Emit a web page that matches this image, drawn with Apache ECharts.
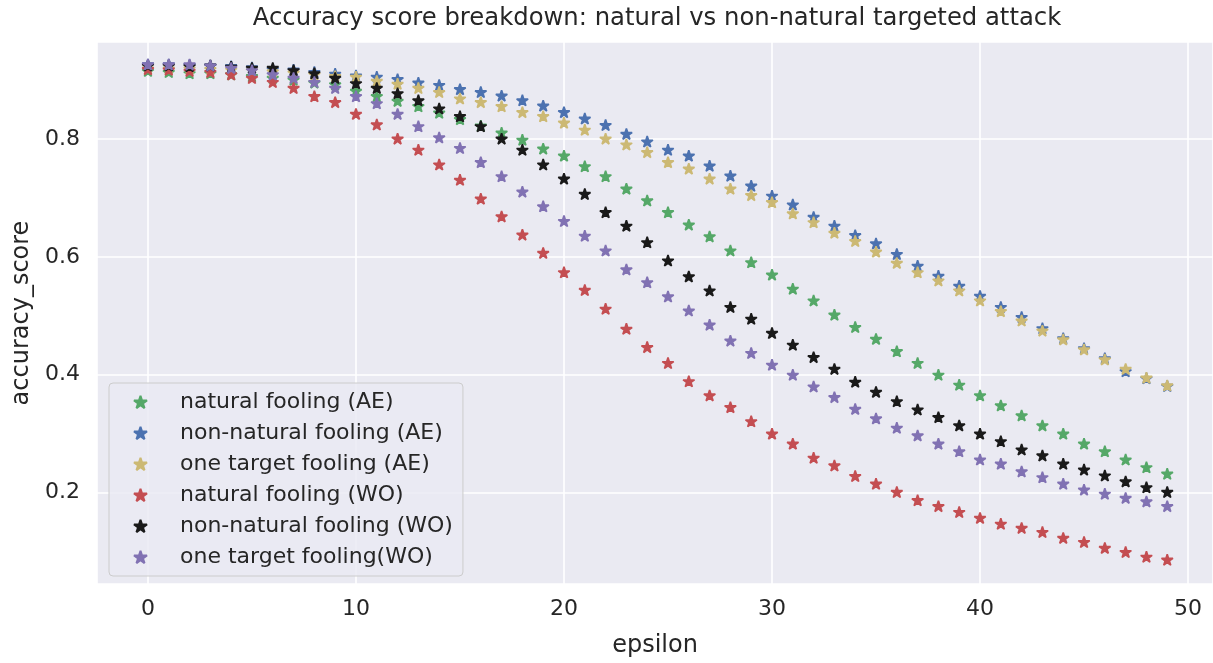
<!DOCTYPE html>
<html>
<head>
<meta charset="utf-8">
<script src="https://cdn.jsdelivr.net/npm/echarts@6/dist/echarts.min.js"></script>
<style>
  html, body { margin: 0; padding: 0; background: #ffffff; }
  #chart { width: 1213px; height: 663px; }
</style>
</head>
<body>
<div id="chart"></div>
<script>
// Perturbation strength on the x axis
const epsilon = [0, 1, 2, 3, 4, 5, 6, 7, 8, 9, 10, 11, 12, 13, 14, 15, 16, 17, 18, 19,
  20, 21, 22, 23, 24, 25, 26, 27, 28, 29, 30, 31, 32, 33, 34, 35, 36, 37, 38, 39,
  40, 41, 42, 43, 44, 45, 46, 47, 48, 49];

const yTicks = [0.2, 0.4, 0.6, 0.8];
const xTicks = [0, 10, 20, 30, 40, 50];

const seriesNames = [
  'natural fooling (AE)',
  'non-natural fooling (AE)',
  'one target fooling (AE)',
  'natural fooling (WO)',
  'non-natural fooling (WO)',
  'one target fooling(WO)'
];

const naturalAE = [0.915, 0.913, 0.911, 0.911, 0.909, 0.906, 0.903, 0.900, 0.895, 0.892,
  0.881, 0.872, 0.864, 0.855, 0.844, 0.833, 0.822, 0.810, 0.798, 0.783,
  0.771, 0.753, 0.736, 0.715, 0.695, 0.675, 0.654, 0.634, 0.610, 0.590,
  0.569, 0.545, 0.525, 0.501, 0.480, 0.460, 0.439, 0.419, 0.399, 0.382,
  0.364, 0.347, 0.330, 0.313, 0.299, 0.282, 0.269, 0.255, 0.242, 0.231];

const nonNaturalAE = [0.926, 0.926, 0.925, 0.924, 0.923, 0.921, 0.918, 0.917, 0.913, 0.910,
  0.907, 0.905, 0.901, 0.895, 0.891, 0.884, 0.879, 0.873, 0.865, 0.856,
  0.845, 0.834, 0.823, 0.808, 0.795, 0.781, 0.771, 0.754, 0.737, 0.720,
  0.703, 0.688, 0.667, 0.652, 0.636, 0.622, 0.604, 0.584, 0.567, 0.550,
  0.533, 0.514, 0.497, 0.478, 0.461, 0.444, 0.427, 0.405, 0.393, 0.380];

const oneTargetAE = [0.919, 0.919, 0.919, 0.918, 0.917, 0.916, 0.914, 0.912, 0.909, 0.906,
  0.905, 0.898, 0.893, 0.886, 0.879, 0.868, 0.862, 0.855, 0.845, 0.838,
  0.827, 0.815, 0.800, 0.790, 0.777, 0.760, 0.749, 0.732, 0.715, 0.704,
  0.692, 0.673, 0.658, 0.640, 0.626, 0.608, 0.589, 0.573, 0.559, 0.542,
  0.525, 0.507, 0.491, 0.474, 0.459, 0.442, 0.425, 0.409, 0.394, 0.381];

const naturalWO = [0.918, 0.917, 0.915, 0.913, 0.909, 0.903, 0.896, 0.886, 0.872, 0.862,
  0.842, 0.824, 0.800, 0.781, 0.756, 0.730, 0.698, 0.668, 0.637, 0.606,
  0.573, 0.543, 0.511, 0.477, 0.446, 0.419, 0.388, 0.364, 0.344, 0.320,
  0.299, 0.282, 0.258, 0.245, 0.227, 0.214, 0.200, 0.186, 0.176, 0.166,
  0.156, 0.146, 0.139, 0.132, 0.122, 0.115, 0.105, 0.098, 0.090, 0.085];

const nonNaturalWO = [0.924, 0.924, 0.923, 0.924, 0.922, 0.920, 0.920, 0.916, 0.911, 0.903,
  0.894, 0.886, 0.877, 0.865, 0.851, 0.838, 0.821, 0.800, 0.781, 0.756,
  0.732, 0.706, 0.675, 0.652, 0.624, 0.593, 0.566, 0.542, 0.514, 0.494,
  0.470, 0.450, 0.429, 0.409, 0.387, 0.370, 0.354, 0.340, 0.327, 0.313,
  0.299, 0.286, 0.272, 0.262, 0.248, 0.238, 0.228, 0.218, 0.208, 0.200];

const oneTargetWO = [0.926, 0.926, 0.926, 0.924, 0.920, 0.916, 0.909, 0.903, 0.896, 0.886,
  0.872, 0.860, 0.842, 0.821, 0.802, 0.784, 0.760, 0.736, 0.710, 0.685,
  0.660, 0.635, 0.610, 0.578, 0.556, 0.532, 0.508, 0.484, 0.457, 0.436,
  0.416, 0.399, 0.379, 0.361, 0.341, 0.325, 0.309, 0.296, 0.282, 0.269,
  0.255, 0.248, 0.235, 0.225, 0.214, 0.204, 0.197, 0.190, 0.184, 0.176];

const seriesValues = [naturalAE, nonNaturalAE, oneTargetAE, naturalWO, nonNaturalWO, oneTargetWO];
const seriesColors = ['#55a868', '#4c72b0', '#ccb974', '#c44e52', '#1a1a1a', '#8172b3'];

// Five-pointed star, inner radius 0.382 of the outer one
const STAR = 'path://M100,0L122.45,69.1L195.11,69.1L136.33,111.8L158.78,180.9L100,138.2L41.22,180.9L63.67,111.8L4.89,69.1L77.55,69.1Z';

const FONT = 'DejaVu Sans';
const TEXT = '#262626';

const chart = echarts.init(document.getElementById('chart'), null, { renderer: 'canvas' });

const series = seriesNames.map((name, k) => ({
  name: name,
  type: 'scatter',
  symbol: STAR,
  symbolSize: [11.4, 10.9],
  symbolOffset: [0, '-5%'],
  itemStyle: {
    color: seriesColors[k],
    borderColor: seriesColors[k],
    borderWidth: 1.6,
    borderJoin: 'bevel',
    opacity: 1
  },
  emphasis: { disabled: true },
  data: epsilon.map((e, i) => [e, seriesValues[k][i]])
}));

chart.setOption({
  animation: false,
  backgroundColor: '#ffffff',
  title: {
    text: 'Accuracy score breakdown: natural vs non-natural targeted attack',
    left: 657,
    top: 5,
    padding: 0,
    textAlign: 'center',
    textStyle: { fontFamily: FONT, fontSize: 24.3, fontWeight: 'normal', color: TEXT, lineHeight: 28 }
  },
  grid: {
    left: 97,
    right: 0,
    top: 42,
    bottom: 78,
    show: true,
    backgroundColor: '#eaeaf2',
    borderWidth: 0,
    containLabel: false
  },
  legend: {
    orient: 'vertical',
    left: 109,
    top: 383,
    padding: [7, 10, 7, 24],
    itemGap: 7,
    itemWidth: 13,
    itemHeight: 12.4,
    backgroundColor: 'rgba(234,234,242,0.8)',
    borderColor: '#cccccc',
    borderWidth: 1,
    borderRadius: 4,
    selectedMode: false,
    textStyle: {
      fontFamily: FONT,
      fontSize: 22,
      color: TEXT,
      lineHeight: 24,
      padding: [0, 0, 0, 28]
    },
    data: seriesNames.map((n) => ({ name: n, icon: STAR }))
  },
  xAxis: {
    type: 'value',
    min: -2.45,
    max: 51.2,
    splitNumber: 5,
    name: 'epsilon',
    nameLocation: 'middle',
    nameGap: 50,
    nameTextStyle: { fontFamily: FONT, fontSize: 24, color: TEXT },
    axisLine: { show: false },
    axisTick: { show: false },
    axisLabel: {
      showMinLabel: false,
      showMaxLabel: false,
      margin: 14,
      fontFamily: FONT,
      fontSize: 22,
      color: TEXT,
      formatter: (v) => (xTicks.indexOf(v) >= 0 ? String(v) : '')
    },
    splitLine: { show: true, lineStyle: { color: '#ffffff', width: 1.6 } }
  },
  yAxis: {
    type: 'value',
    min: 0.0446,
    max: 0.9649,
    splitNumber: 5,
    name: 'accuracy_score',
    nameLocation: 'middle',
    nameGap: 62,
    nameTextStyle: { fontFamily: FONT, fontSize: 24, color: TEXT },
    axisLine: { show: false },
    axisTick: { show: false },
    axisLabel: {
      showMinLabel: false,
      showMaxLabel: false,
      margin: 17,
      fontFamily: FONT,
      fontSize: 22,
      color: TEXT,
      formatter: (v) => {
        const hit = yTicks.find((t) => Math.abs(t - v) < 1e-9);
        return hit !== undefined ? hit.toFixed(1) : '';
      }
    },
    splitLine: { show: true, lineStyle: { color: '#ffffff', width: 1.6 } }
  },
  series: series
});
</script>
</body>
</html>
